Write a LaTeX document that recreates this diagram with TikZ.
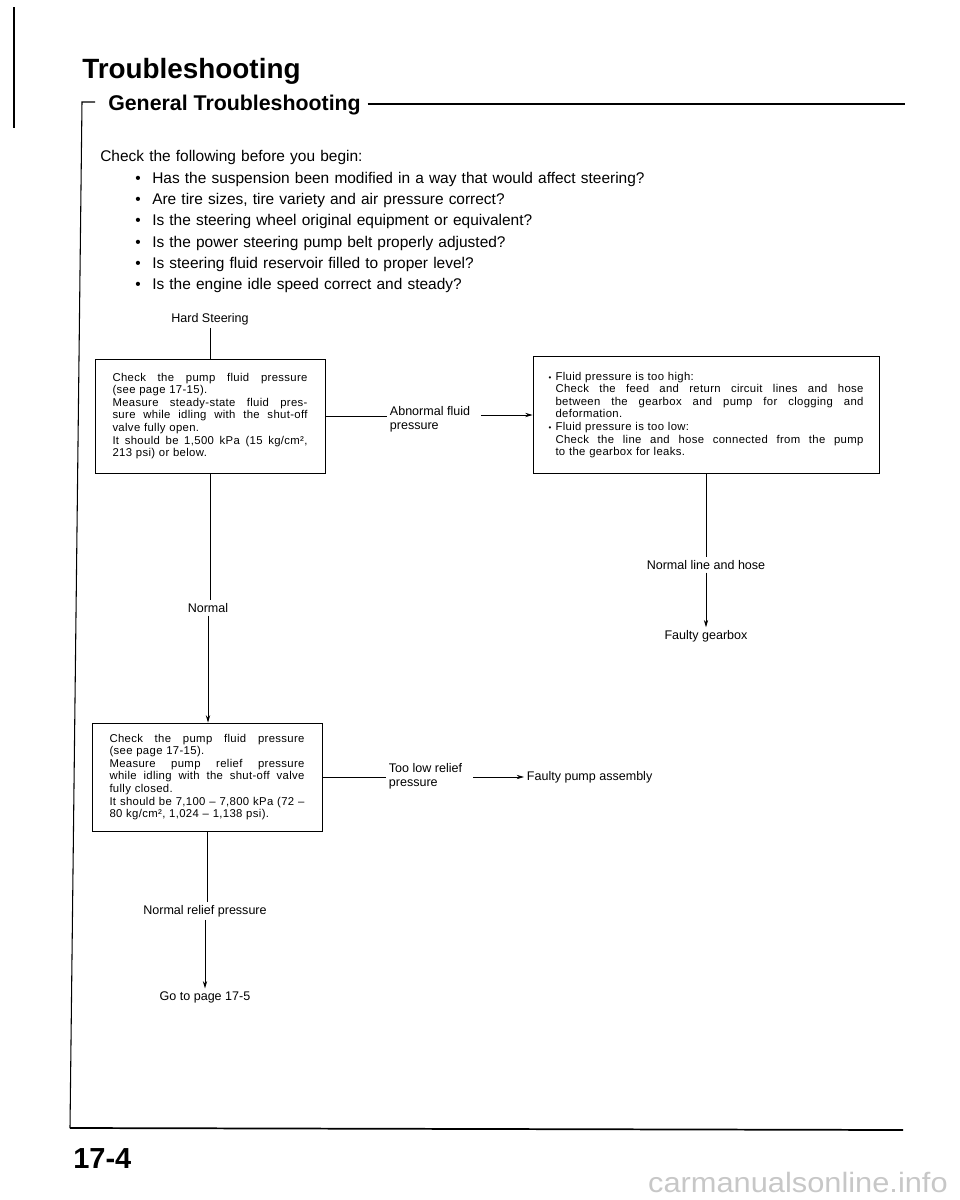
\documentclass[tikz,border=0pt]{standalone}
\usepackage{fontspec}
\setmainfont{Liberation Sans}
\newfontfamily\boxfam[LetterSpace=3]{Liberation Sans}
\usetikzlibrary{arrows.meta}
\newcommand{\jl}[1]{{\spaceskip=0pt\xspaceskip=0pt\makebox[146.25pt][s]{#1}}}
\newcommand{\jw}[1]{\hspace*{5.25pt}{\spaceskip=0pt\xspaceskip=0pt\makebox[231pt][s]{#1}}}
\newcommand{\bl}{\makebox[5.25pt][l]{\scalebox{0.7}{•}}}
\newcommand{\ib}{\hspace*{26.25pt}\makebox[12.75pt][l]{•}}
\begin{document}
\begin{tikzpicture}[x=0.75pt,y=-0.75pt,
  conn/.style={line width=0.55pt},
  arr/.style={line width=0.55pt,-{Stealth[length=5.5pt,width=3.2pt]}},
  box/.style={draw,line width=0.6pt,font=\boxfam\fontsize{8.5pt}{9.4pt}\selectfont,align=left,inner xsep=0pt,inner ysep=0pt,minimum width=172.5pt},
  lbl/.style={font=\fontsize{9.4pt}{10.5pt}\selectfont,inner sep=2pt,align=left},
  rule/.style={line width=0.8pt},
]
\useasboundingbox (0,0) rectangle (960,1200);

% page frame
\draw[line width=2.2pt] (14,7) -- (14,128);
\node[anchor=base west,inner sep=0,font=\fontsize{20.9pt}{24pt}\selectfont\bfseries] (t1) at (82,78) {Troubleshooting};
\node[anchor=base west,inner sep=0,font=\fontsize{16pt}{18pt}\selectfont\bfseries] (t2) at (108,110) {General Troubleshooting};
\draw[rule] ([xshift=5pt]t2.east |- 0,104) -- (905,104);
\draw[rule] (95,102) -- (82,102) -- (70,1128);
\draw[line width=1.3pt] (70,1128) -- (903,1130);
\node[anchor=base west,inner sep=0,font=\fontsize{21.75pt}{24pt}\selectfont\bfseries] (pg) at (73,1168) {17-4};
\node[anchor=base east,inner sep=0,text=black!22,font=\fontsize{21pt}{24pt}\selectfont] (wm) at (948,1192) {\scalebox{1.1}[1]{carmanualsonline.info}};

% intro
\node[anchor=north west,inner sep=0,text width=650pt,align=left,font=\fontsize{11.6pt}{16pt}\selectfont] (intro) at (100,150.5) {Check the following before you begin:\\
\ib Has the suspension been modified in a way that would affect steering?\\
\ib Are tire sizes, tire variety and air pressure correct?\\
\ib Is the steering wheel original equipment or equivalent?\\
\ib Is the power steering pump belt properly adjusted?\\
\ib Is steering fluid reservoir filled to proper level?\\
\ib Is the engine idle speed correct and steady?};

% flow nodes
\node[lbl] (hs) at (210,319) {Hard Steering};
\node[box,text width=146.25pt,minimum height=85.5pt] (b1) at (210,416) {%
\jl{Check the pump fluid pressure}\\
(see page 17-15).\\
\jl{Measure steady-state fluid pres-}\\
\jl{sure while idling with the shut-off}\\
valve fully open.\\
\jl{It should be 1,500 kPa (15 kg/cm²,}\\
213 psi) or below.};
\node[lbl,anchor=west] (abn) at (387,419) {Abnormal fluid\\pressure};
\node[box,text width=236.25pt,minimum width=259.5pt,minimum height=87.75pt] (b2) at (706,415) {%
\bl Fluid pressure is too high:\\
\jw{Check the feed and return circuit lines and hose}\\
\jw{between the gearbox and pump for clogging and}\\
\hspace*{5.25pt}deformation.\\
\bl Fluid pressure is too low:\\
\jw{Check the line and hose connected from the pump}\\
\hspace*{5.25pt}to the gearbox for leaks.};
\node[lbl] (nlh) at (706,565) {Normal line and hose};
\node[lbl] (fg) at (706,636) {Faulty gearbox};
\node[lbl] (nrm) at (208,608) {Normal};
\node[box,text width=146.25pt,minimum height=81pt] (b3) at (207,777) {%
\jl{Check the pump fluid pressure}\\
(see page 17-15).\\
\jl{Measure pump relief pressure}\\
\jl{while idling with the shut-off valve}\\
fully closed.\\
\jl{It should be 7,100 – 7,800 kPa (72 –}\\
80 kg/cm², 1,024 – 1,138 psi).};
\node[lbl,anchor=west] (tlr) at (386,776) {Too low relief\\pressure};
\node[lbl,anchor=west] (fpa) at (524,777) {Faulty pump assembly};
\node[lbl] (nrp) at (205,911) {Normal relief pressure};
\node[lbl] (go) at (205,997) {Go to page 17-5};

% connectors
\draw[conn] (hs.south) -- (b1.north);
\draw[conn] (b1.east) -- (b1.east -| abn.west);
\draw[arr] ([xshift=6pt]abn.east |- b2.west) -- (b2.west);
\draw[conn] (b2.south) -- (b2.south |- nlh.north);
\draw[arr] (nlh.south) -- (fg.north);
\draw[conn] (b1.south) -- (b1.south |- nrm.north);
\draw[arr] (nrm.south) -- (nrm.south |- b3.north);
\draw[conn] (b3.east) -- (b3.east -| tlr.west);
\draw[arr] ([xshift=6pt]tlr.east |- b3.east) -- (fpa.west);
\draw[conn] (b3.south) -- (b3.south |- nrp.north);
\draw[arr] (nrp.south) -- (go.north);
\end{tikzpicture}
\end{document}
